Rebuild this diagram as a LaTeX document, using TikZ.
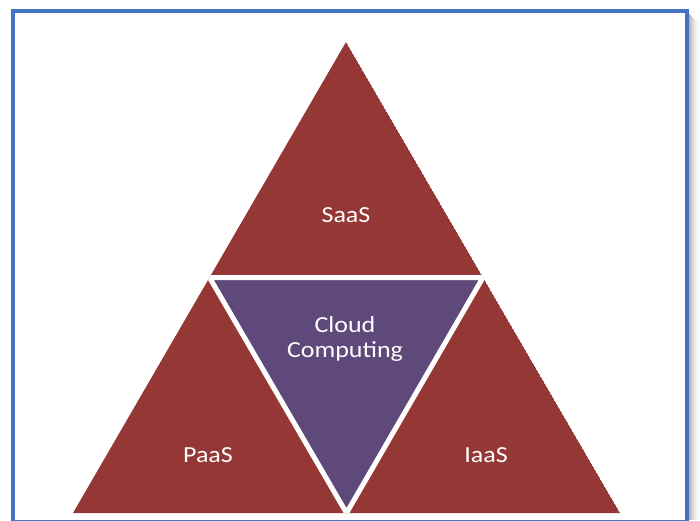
\documentclass[tikz,border=0pt]{standalone}
\usepackage{fontspec}
\usetikzlibrary{calc}
\newfontfamily\lblfont{Carlito}[FakeStretch=1.13]
\definecolor{brick}{HTML}{953735}
\definecolor{plum}{HTML}{5F497A}
\definecolor{framebl}{HTML}{4472C4}
\begin{document}
\begin{tikzpicture}[x=1pt,y=-1pt,
  lbl/.style={text=white,font=\lblfont\fontsize{23}{25}\selectfont,anchor=base,inner sep=0pt},
  gap/.style={draw=white,line width=5pt}]
\useasboundingbox (0,0) rectangle (700,520);
\fill[white] (0,0) rectangle (700,520);
% shadow
\foreach \i/\o in {0/0.30,1/0.25,2/0.20,3/0.16,4/0.12,5/0.09,6/0.07,7/0.05,8/0.035,9/0.02}
  \fill[black,opacity=\o] (689+\i,14+\i) rectangle (690+\i,520);
% frame
\begin{scope}
  \clip (0,0) rectangle (700,520);
  \draw[framebl,line width=4pt] (13,11) rectangle (687,521.5);
\end{scope}
% triangle corners
\coordinate (A) at (346,42);
\coordinate (BL) at (73,513);
\coordinate (BR) at (620,513);
\coordinate (ML) at ($(A)!0.5!(BL)$);
\coordinate (MR) at ($(A)!0.5!(BR)$);
\coordinate (MB) at ($(BL)!0.5!(BR)$);
\begin{scope}
  \clip (A) -- (BL) -- (BR) -- cycle;
  \fill[brick] (A) -- (BL) -- (BR) -- cycle;
  \filldraw[fill=plum,gap] (ML) -- (MR) -- (MB) -- cycle;
\end{scope}
\node[lbl] (saas) at (346,222) {SaaS};
\node[lbl] (cloud) at (345,332) {Cloud};
\node[lbl] (comp) at (345,357) {Computing};
\node[lbl] (paas) at (208,462) {PaaS};
\node[lbl] (iaas) at (486,462) {IaaS};
\end{tikzpicture}
\end{document}
